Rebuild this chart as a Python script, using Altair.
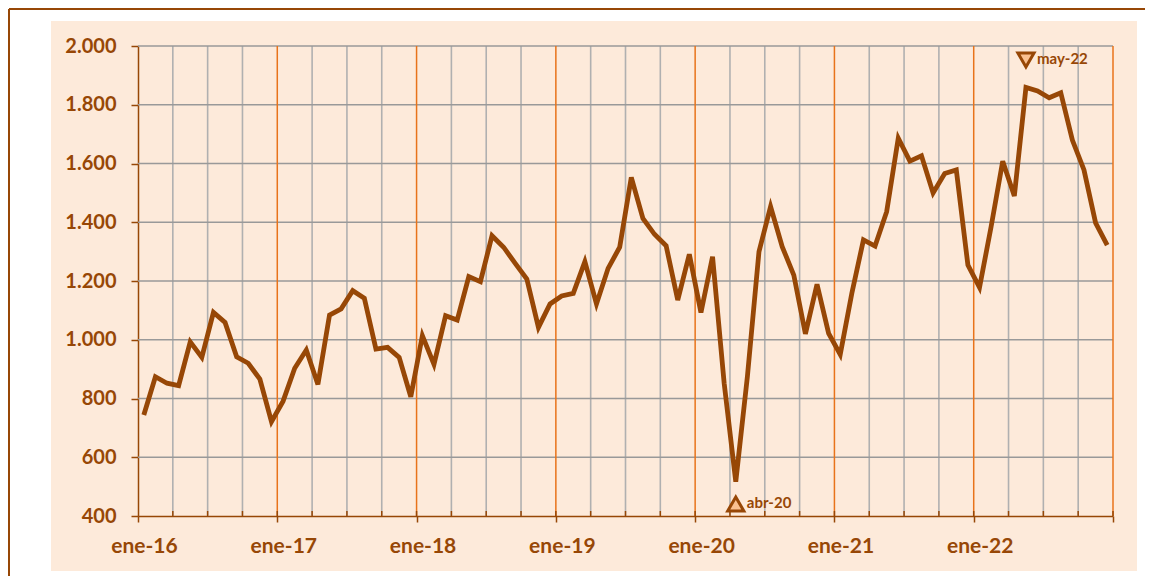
import altair as alt
import pandas as pd

# ---------------- data ----------------
start_year = 2016
values = [
    744, 874, 852, 844, 993, 940, 1093, 1059, 942, 920, 866, 721,        # 2016
    791, 903, 965, 848, 1084, 1105, 1167, 1141, 968, 974, 940, 806,      # 2017
    1014, 916, 1082, 1067, 1215, 1198, 1354, 1315, 1260, 1207, 1042, 1122,  # 2018
    1149, 1158, 1266, 1122, 1243, 1315, 1553, 1413, 1359, 1320, 1135, 1291,  # 2019
    1093, 1283, 852, 517, 874, 1300, 1453, 1317, 1220, 1020, 1189, 1022,  # 2020
    950, 1158, 1340, 1319, 1436, 1686, 1608, 1626, 1500, 1566, 1578, 1254,  # 2021
    1178, 1385, 1608, 1489, 1859, 1847, 1824, 1841, 1680, 1578, 1398, 1322,  # 2022
]
x_labels = ["ene-16", "ene-17", "ene-18", "ene-19", "ene-20", "ene-21", "ene-22"]
y_ticks = [400, 600, 800, 1000, 1200, 1400, 1600, 1800, 2000]

ann_labels = ["abr-20", "may-22"]
ann_month = [51, 76]          # month index (0 = ene-16)
ann_value = [441, 1952]
ann_shape = ["triangle-up", "triangle-down"]

# ---------------- styling ----------------
BROWN = "#974706"
ORANGE = "#E8731A"
GRAY_V = "#B0B0B0"
GRAY_H = "#999999"
PEACH = "#FDEADA"
MARKER_FILL = "#FAC090"
FONT = "Lato"

n_months = len(values)
line_df = pd.DataFrame({"m": [i + 0.5 for i in range(n_months)], "v": values})

quarters = [q for q in range(3, n_months + 1, 3)]
gray_v = pd.DataFrame({"m": [q for q in quarters if q % 12 != 0]})
orange_v = pd.DataFrame({"m": [q for q in quarters if q % 12 == 0]})
minor = pd.DataFrame({"m": quarters})
hgrid = pd.DataFrame({"v": [t for t in y_ticks if t > y_ticks[0]]})
ann_df = pd.DataFrame({
    "m": [a + 0.5 for a in ann_month],
    "v": ann_value,
    "label": ann_labels,
    "shape": ann_shape,
})

xscale = alt.Scale(domain=[0, n_months], nice=False, zero=False)
yscale = alt.Scale(domain=[y_ticks[0], y_ticks[-1]], nice=False, zero=False)

label_arr = "[" + ",".join("'%s'" % s for s in x_labels) + "]"
x_axis = alt.Axis(
    values=list(range(0, n_months + 1, 12)),
    labelExpr=label_arr + "[round(datum.value/12)] || ''",
    labelOffset=6, tickSize=6, labelFontSize=21, labelPadding=13,
)
y_axis = alt.Axis(
    values=y_ticks,
    labelExpr="replace(format(datum.value, ','), ',', '.')",
    tickSize=7, labelFontSize=20, labelPadding=15,
)

X = lambda: alt.X("m:Q", scale=xscale, title=None)
Y = lambda: alt.Y("v:Q", scale=yscale, title=None)

one = alt.Data(values=[{}])


def white_band(x1, x2, y1, y2):
    return alt.Chart(one).mark_rect(fill="white").encode(
        x=alt.value(x1), x2=alt.value(x2), y=alt.value(y1), y2=alt.value(y2)
    )


bands = [
    white_band(-140, -87, -50, 540),   # left margin
    white_band(-140, 1020, -50, -25),  # top margin
    white_band(999, 1020, -50, 540),   # right margin
    white_band(-140, 1020, 525, 540),  # bottom margin
]
border_v = alt.Chart(one).mark_rule(color=BROWN, strokeWidth=2).encode(
    x=alt.value(-129), y=alt.value(-37), y2=alt.value(540)
)
border_h = alt.Chart(one).mark_rule(color=BROWN, strokeWidth=2).encode(
    x=alt.value(-129), x2=alt.value(1020), y=alt.value(-37)
)

vg = alt.Chart(gray_v).mark_rule(color=GRAY_V, strokeWidth=1.6).encode(x=X())
hg = alt.Chart(hgrid).mark_rule(color=GRAY_H, strokeWidth=1.6).encode(y=Y())
og = alt.Chart(orange_v).mark_rule(color=ORANGE, strokeWidth=1.5).encode(x=X())
mt = alt.Chart(minor).mark_rule(color=BROWN, strokeWidth=1.5).encode(
    x=X(), y=alt.value(465), y2=alt.value(470),
)

line = alt.Chart(line_df).mark_line(color=BROWN, strokeWidth=4.8).encode(
    x=alt.X("m:Q", scale=xscale, axis=x_axis, title=None),
    y=alt.Y("v:Q", scale=yscale, axis=y_axis, title=None),
)

markers = alt.Chart(ann_df).mark_point(
    filled=True, fill=MARKER_FILL, stroke=BROWN, strokeWidth=3, size=260, opacity=1
).encode(
    x=X(), y=Y(),
    shape=alt.Shape("shape:N", scale=None),
)
texts = alt.Chart(ann_df).mark_text(
    align="left", baseline="middle", dx=11, dy=-1,
    font=FONT, fontWeight="bold", fontSize=15, color=BROWN,
).encode(x=X(), y=Y(), text="label:N")

chart = alt.layer(*bands, border_v, border_h, vg, hg, og, mt, line, markers, texts).properties(
    width=975, height=470,
    padding={"left": 130, "top": 38, "right": 32, "bottom": 60},
    autosize=alt.AutoSizeParams(type="none"),
    background=PEACH,
).configure_view(stroke=None).configure_axis(
    grid=False,
    domainColor=BROWN, domainWidth=1.5, tickColor=BROWN, tickWidth=1.5,
    labelFont=FONT, labelFontWeight="bold", labelColor=BROWN,
    labelFlush=False, labelOverlap=False,
)

chart.save("out.html", embed_options={"renderer": "svg", "actions": False})
